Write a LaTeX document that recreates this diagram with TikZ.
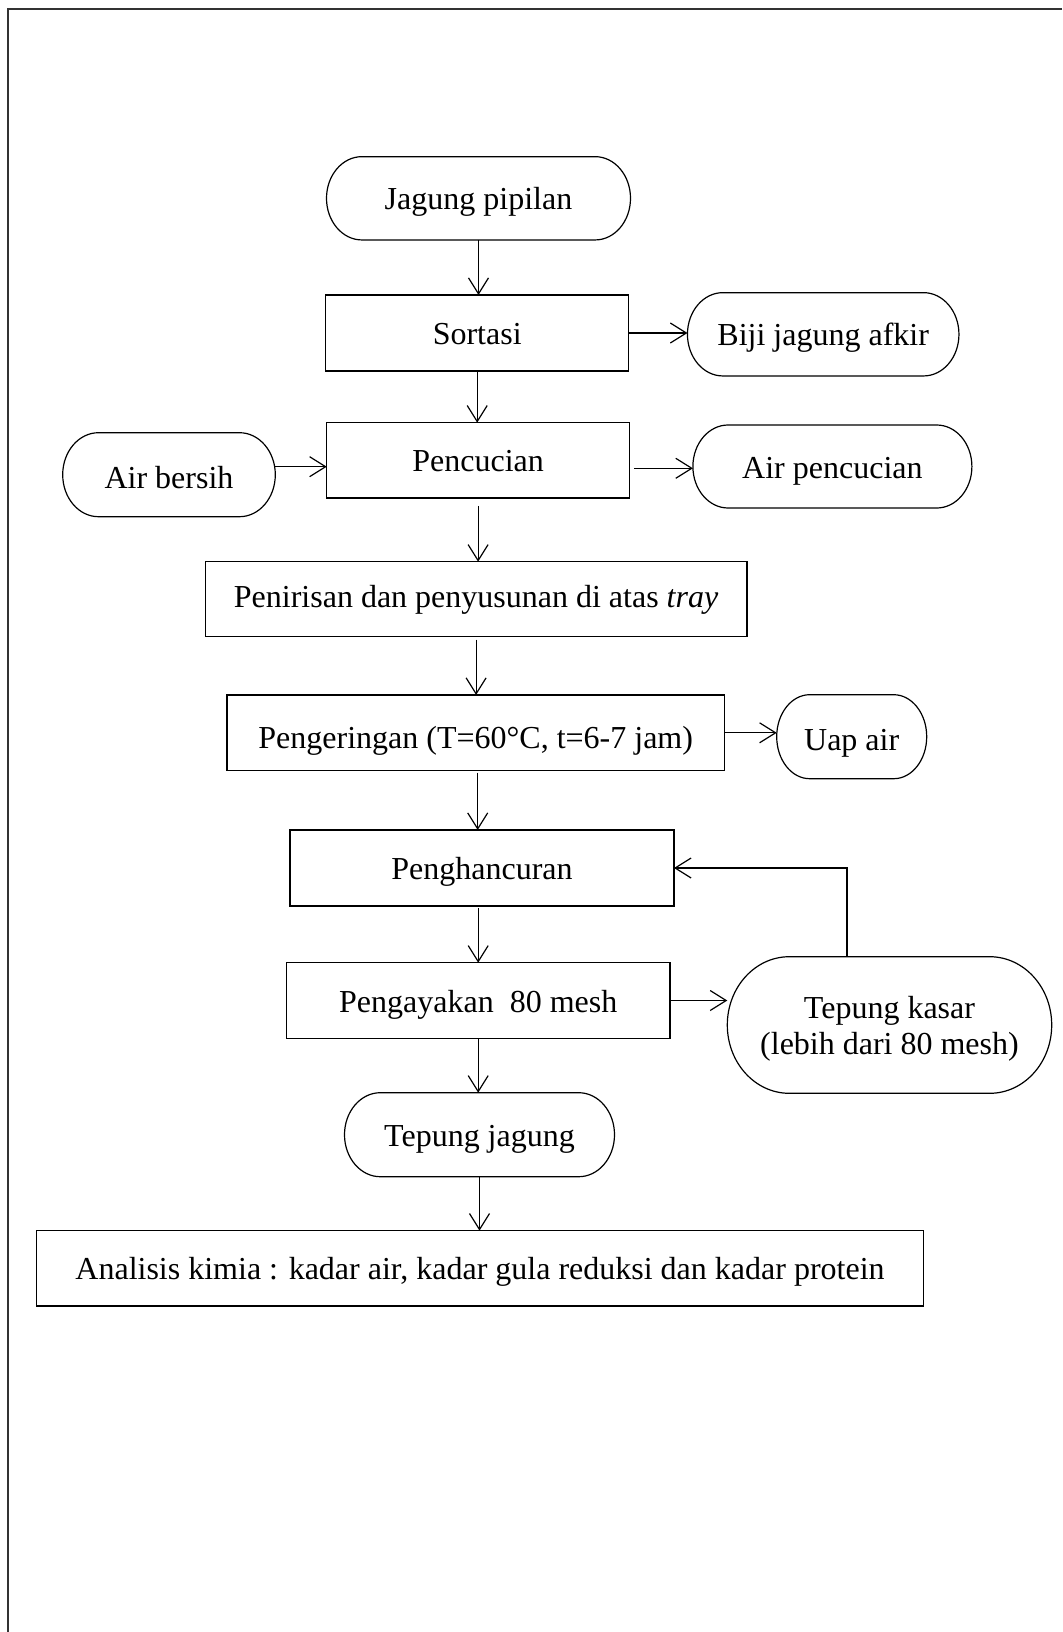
\documentclass[tikz,border=0pt]{standalone}
\usepackage{fontspec}
\setmainfont{Liberation Serif}
\usetikzlibrary{arrows.meta,calc}
\newcommand\termshape[2]{%
  \draw[shapeline] let \p1=(#1.north west), \p2=(#1.south east), \n1={(\y1-\y2)/2} in
    (\x1+#2,\y1) -- (\x2-#2,\y1)
    arc[start angle=90, end angle=-90, x radius=#2, y radius=\n1]
    -- (\x1+#2,\y2)
    arc[start angle=270, end angle=90, x radius=#2, y radius=\n1] -- cycle;}
\begin{document}
\begin{tikzpicture}[x=0.5pt,y=-0.5pt,
  every node/.style={font=\fontsize{16pt}{21pt}\selectfont, inner sep=0pt, outer sep=0pt,
    text height=15.2pt, text depth=3.7pt},
  proc/.style={draw, line width=0.6pt},
  term/.style={},
  arr/.style={-{Straight Barb[length=8pt,width=10pt]}, line width=0.6pt},
  shapeline/.style={line width=0.6pt},
  frame/.style={line width=1pt, black!80}]
\useasboundingbox (0,0) rectangle (1062,1632);
\draw[frame] (1062,9) -- (8,9) -- (8,1632);

\node[term, minimum width=152pt, minimum height=41.65pt] (jp) at (478.5,198.3) {Jagung pipilan};
\node[proc, minimum width=151.35pt, minimum height=38pt] (so) at (477.2,333) {Sortasi};
\node[term, minimum width=135.75pt, minimum height=41.65pt] (bj) at (823.2,334.3) {Biji jagung afkir};
\node[proc, minimum width=151.35pt, minimum height=37.65pt] (pc) at (478.1,460.3) {Pencucian};
\node[term, minimum width=106.3pt, minimum height=42pt, text height=17.2pt] (ab) at (169,474.7) {Air bersih};
\node[term, minimum width=139.5pt, minimum height=41.5pt] (ap) at (832.4,466.5) {Air pencucian};
\node[proc, minimum width=270.95pt, minimum height=37.5pt, text height=12.4pt] (pn) at (476.1,599.2) {Penirisan dan penyusunan di atas \textit{tray}};
\node[proc, minimum width=248.7pt, minimum height=37.85pt, text height=19.6pt] (pg) at (475.7,732.8) {Pengeringan (T=60°C, t=6-7 jam)};
\node[term, minimum width=75pt, minimum height=42pt, text height=17.2pt] (ua) at (851.7,736.7) {Uap air};
\node[proc, minimum width=192pt, minimum height=38pt] (ph) at (482,868) {Penghancuran};
\node[proc, minimum width=191.8pt, minimum height=37.8pt] (py) at (478.2,1000.5) {Pengayakan\ \ 80 mesh};
\node[term, minimum width=162.2pt, minimum height=68.3pt, text height=10pt, text depth=16.7pt] (tk) at (889.5,1025) {\parbox[t]{140pt}{\fontsize{16pt}{18.3pt}\selectfont\centering Tepung kasar\\(lebih dari 80 mesh)}};
\node[term, minimum width=135pt, minimum height=42pt] (tj) at (479.5,1134.7) {Tepung jagung};
\node[proc, minimum width=443.65pt, minimum height=37.65pt] (an) at (480,1268.3) {Analisis kimia : kadar air, kadar gula reduksi dan kadar protein};

\termshape{jp}{17.7pt}
\termshape{bj}{17.7pt}
\termshape{ab}{17.9pt}
\termshape{ap}{17.6pt}
\termshape{ua}{16.5pt}
\termshape{tk}{31pt}
\termshape{tj}{17.9pt}

\draw[arr] (jp.south) -- (jp.south |- so.north);
\draw[arr] (so.east) -- (so.east -| bj.west);
\draw[arr] (so.south) -- (so.south |- pc.north);
\draw[arr] ([yshift=4pt]ab.east) -- ([yshift=4pt]ab.east -| pc.west);
\draw[arr, shorten <=2.5pt] ([yshift=-4pt]pc.east) -- ([yshift=-4pt]pc.east -| ap.west);
\draw[arr, shorten <=4pt] (pc.south) -- (pc.south |- pn.north);
\draw[arr, shorten <=1.5pt] (pn.south) -- (pn.south |- pg.north);
\draw[arr] (pg.east) -- (pg.east -| ua.west);
\draw[arr, shorten <=1pt] ([xshift=1pt]pg.south) -- ([xshift=1pt]pg.south |- ph.north);
\draw[arr, shorten <=1pt] (py.north |- ph.south) -- (py.north);
\draw[arr] (py.east) -- (py.east -| tk.west);
\draw[arr] ([xshift=-21.25pt]tk.north) |- (ph.east);
\draw[arr] (py.south) -- (py.south |- tj.north);
\draw[arr] (tj.south) -- (tj.south |- an.north);
\end{tikzpicture}
\end{document}
